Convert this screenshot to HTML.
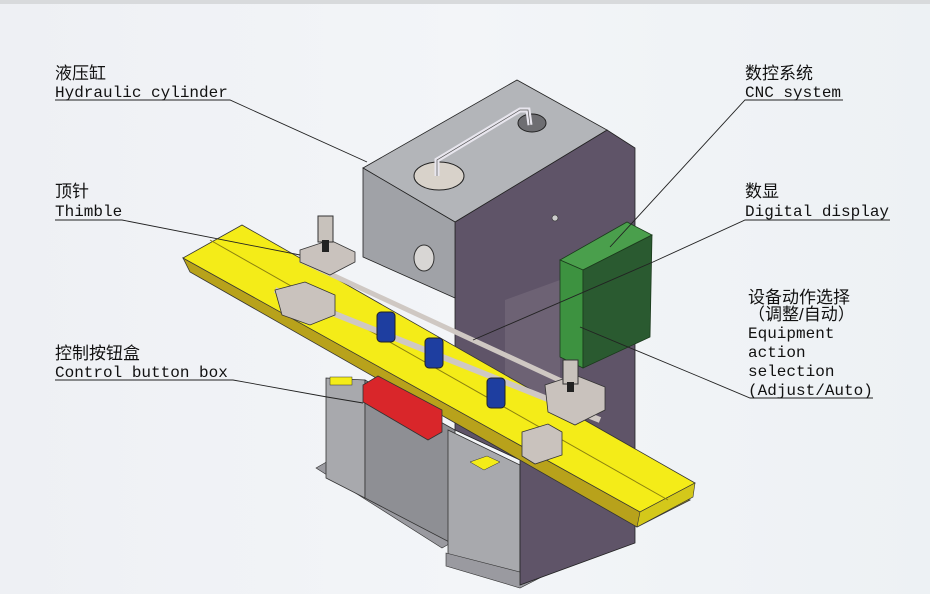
<!DOCTYPE html>
<html><head><meta charset="utf-8"><style>
html,body{margin:0;padding:0}
body{width:930px;height:594px;overflow:hidden;background:linear-gradient(90deg,#eef0f4,#f3f5f8 50%,#edf1f4)}
svg{position:absolute;left:0;top:0}
.t{font-family:"Liberation Mono","Noto Sans CJK SC",monospace;font-size:16px;fill:#111}
.c{font-family:"Liberation Sans","Noto Sans CJK SC",sans-serif;font-size:17px;fill:#111}
</style></head><body>
<svg width="930" height="594" viewBox="0 0 930 594">
<rect x="0" y="0" width="930" height="4" fill="#d8dadc"/>
<!-- base legs -->
<polygon points="316,468 330,460 456,530 456,540 442,548" fill="#9a9aa0" stroke="#333" stroke-width="0.6"/>
<polygon points="326,378 365,380 365,498 326,478" fill="#a8a9ad" stroke="#333" stroke-width="0.8"/>
<polygon points="365,380 455,430 455,545 365,498" fill="#8e8f94" stroke="#333" stroke-width="0.8"/>
<polygon points="448,430 520,465 520,580 448,560" fill="#a8a9ad" stroke="#333" stroke-width="0.8"/>
<polygon points="446,553 520,572 575,548 575,560 520,588 446,566" fill="#9a9aa0" stroke="#333" stroke-width="0.6"/>
<!-- column -->
<polygon points="455,222 607,130 635,148 635,543 520,585 520,460 455,430" fill="#5f5468" stroke="#222" stroke-width="0.8"/>
<polygon points="505,300 560,280 560,400 505,420" fill="#6d6274"/>
<!-- cylinder box -->
<polygon points="363,168 517,80 607,130 455,222" fill="#b3b5b9" stroke="#222" stroke-width="0.8"/>
<polygon points="363,168 455,222 455,298 363,257" fill="#a0a2a7" stroke="#222" stroke-width="0.8"/>
<ellipse cx="439" cy="176" rx="25" ry="14" fill="#d8d2ca" stroke="#222"/>
<ellipse cx="532" cy="123" rx="14" ry="9" fill="#6e6e72" stroke="#222"/>
<polyline points="437,176 437,160 520,110 528,110 530,125" fill="none" stroke="#e8e6ee" stroke-width="5"/>
<polyline points="437,176 437,160 520,110 528,110 530,125" fill="none" stroke="#555" stroke-width="0.7"/>
<ellipse cx="424" cy="258" rx="10" ry="13" fill="#d8d6d4" stroke="#333"/>
<circle cx="555" cy="218" r="3" fill="#ccc" stroke="#333" stroke-width="0.6"/>
<!-- green box -->
<polygon points="560,260 627,222 652,235 583,270" fill="#4a9f4c" stroke="#1b3a1c" stroke-width="0.8"/>
<polygon points="560,260 583,270 583,368 560,357" fill="#3d9240" stroke="#1b3a1c" stroke-width="0.8"/>
<polygon points="583,270 652,235 650,337 583,368" fill="#2a5a30" stroke="#1b3a1c" stroke-width="0.8"/>
<!-- yellow bar -->
<polygon points="183,258 190,272 450,420 637,527 690,500 640,490 400,370" fill="#b8a21b" stroke="#333" stroke-width="0.8"/>
<polygon points="183,258 242,225 695,483 640,512" fill="#f4ec18" stroke="#333" stroke-width="0.8"/>
<polygon points="640,512 695,483 693,497 637,527" fill="#d4c81a" stroke="#333" stroke-width="0.6"/>
<line x1="210" y1="240" x2="668" y2="500" stroke="#8a8010" stroke-width="1"/>
<!-- red box -->
<polygon points="363,385 378,376 442,410 442,432 428,440 363,402" fill="#d9262a" stroke="#333" stroke-width="0.8"/>
<rect x="330" y="377" width="22" height="8" fill="#f4ec18" stroke="#333" stroke-width="0.5"/>
<polygon points="470,462 487,456 500,462 484,470" fill="#f4ec18" stroke="#333" stroke-width="0.5"/>
<!-- rods -->
<line x1="275" y1="290" x2="600" y2="420" stroke="#cfc8c3" stroke-width="6"/>
<line x1="300" y1="260" x2="570" y2="385" stroke="#cfc8c3" stroke-width="5"/>
<!-- carriages -->
<polygon points="300,250 330,240 355,252 355,262 330,275 300,262" fill="#c9c2bd" stroke="#333" stroke-width="0.8"/>
<polygon points="275,290 305,282 335,295 335,315 310,325 282,315" fill="#c9c2bd" stroke="#333" stroke-width="0.8"/>
<rect x="318" y="216" width="15" height="26" fill="#c8c2bc" stroke="#333"/>
<rect x="322" y="240" width="7" height="12" fill="#222"/>
<polygon points="545,385 575,375 605,387 605,410 575,425 548,412" fill="#c9c2bd" stroke="#333" stroke-width="0.8"/>
<polygon points="522,432 548,424 562,432 562,455 535,464 522,456" fill="#c9c2bd" stroke="#333" stroke-width="0.8"/>
<rect x="563" y="360" width="15" height="24" fill="#c8c2bc" stroke="#333"/>
<rect x="567" y="382" width="7" height="10" fill="#222"/>
<!-- blue cylinders -->
<rect x="377" y="312" width="18" height="30" rx="4" fill="#1e3ea0" stroke="#222"/>
<rect x="425" y="338" width="18" height="30" rx="4" fill="#1e3ea0" stroke="#222"/>
<rect x="487" y="378" width="18" height="30" rx="4" fill="#1e3ea0" stroke="#222"/>
<!-- leader lines -->
<g stroke="#222" stroke-width="0.9" fill="none">
<polyline points="55,100 230,100 367,162"/>
<polyline points="55,220 122,220 300,255"/>
<polyline points="55,380 233,380 327,397 363,403"/>
<polyline points="843,100 745,100 610,247"/>
<polyline points="890,220 745,220 653,262 473,340"/>
<polyline points="873,398 750,398 700,377 580,327"/>
</g>
<!-- labels -->
<text class="c" x="55" y="79">液压缸</text>
<text class="t" x="55" y="97">Hydraulic cylinder</text>
<text class="c" x="55" y="197">顶针</text>
<text class="t" x="55" y="216">Thimble</text>
<text class="c" x="55" y="359">控制按钮盒</text>
<text class="t" x="55" y="377">Control button box</text>
<text class="c" x="745" y="79">数控系统</text>
<text class="t" x="745" y="97">CNC system</text>
<text class="c" x="745" y="197">数显</text>
<text class="t" x="745" y="216">Digital display</text>
<text class="c" x="748" y="303">设备动作选择</text>
<text class="c" x="748" y="320">（调整/自动）</text>
<text class="t" x="748" y="338">Equipment</text>
<text class="t" x="748" y="357">action</text>
<text class="t" x="748" y="376">selection</text>
<text class="t" x="748" y="395">(Adjust/Auto)</text>
</svg>
</body></html>
